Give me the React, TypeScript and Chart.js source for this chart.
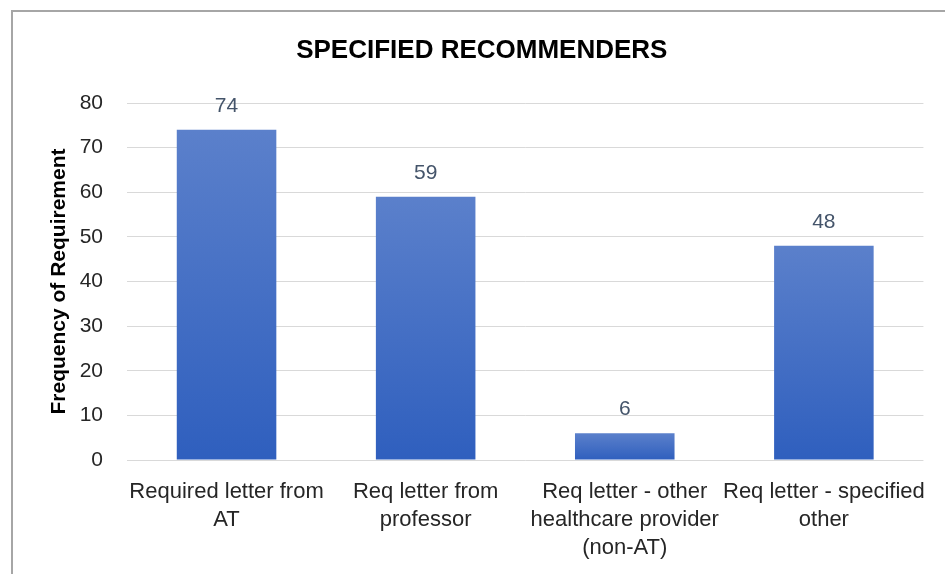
import React, { useEffect, useRef } from "react";
import { Chart, registerables } from "chart.js";

Chart.register(...registerables);

const chartTitle = "SPECIFIED RECOMMENDERS";
const yAxisTitle = "Frequency of Requirement";
const categories: string[][] = [
  ["Required letter from", "AT"],
  ["Req letter from", "professor"],
  ["Req letter - other", "healthcare provider", "(non-AT)"],
  ["Req letter - specified", "other"],
];
const values: number[] = [74, 59, 6, 48];
const yMin = 0;
const yMax = 80;
const yStep = 10;

const FONT = "'Liberation Sans', Arial, sans-serif";

const titlePlugin = {
  id: "customTitle",
  afterDraw(chart: any) {
    const ctx = chart.ctx;
    ctx.save();
    ctx.font = `bold 26px ${FONT}`;
    ctx.fillStyle = "#000000";
    ctx.textAlign = "center";
    ctx.textBaseline = "middle";
    ctx.fillText(chartTitle, chart.width * 0.503, 39);
    ctx.restore();
  },
};

const valueLabelPlugin = {
  id: "valueLabels",
  afterDatasetsDraw(chart: any) {
    const ctx = chart.ctx;
    const meta = chart.getDatasetMeta(0);
    ctx.save();
    ctx.font = `21px ${FONT}`;
    ctx.fillStyle = "#44546a";
    ctx.textAlign = "center";
    ctx.textBaseline = "middle";
    meta.data.forEach((bar: any, i: number) => {
      ctx.fillText(String(values[i]), bar.x, bar.y - 24);
    });
    ctx.restore();
  },
};

export default function App() {
  const canvasRef = useRef<HTMLCanvasElement | null>(null);

  useEffect(() => {
    const canvas = canvasRef.current;
    if (!canvas) return;
    const chart = new Chart(canvas, {
      type: "bar",
      data: {
        labels: categories,
        datasets: [
          {
            data: values,
            backgroundColor: (c: any) => {
              const ch = c.chart;
              if (!ch.chartArea || c.type !== "data" || !ch.scales.y) return "#4472c4";
              const ys = ch.scales.y;
              const top = ys.getPixelForValue(c.raw);
              const base = ys.getPixelForValue(0);
              if (!isFinite(top) || !isFinite(base) || top === base) return "#4472c4";
              const g = ch.ctx.createLinearGradient(0, top, 0, base);
              g.addColorStop(0, "#5b80cb");
              g.addColorStop(1, "#2f5fbe");
              return g;
            },
            borderWidth: 0,
            barPercentage: 0.5,
            categoryPercentage: 1,
          },
        ],
      },
      options: {
        responsive: false,
        animation: false,
        layout: { padding: { left: 34, right: 18, top: 91, bottom: 0 } },
        plugins: {
          legend: { display: false },
          title: { display: false },
          tooltip: { enabled: false },
        },
        scales: {
          x: {
            grid: { display: false, drawTicks: false },
            border: { display: false },
            ticks: {
              font: { family: FONT, size: 22, lineHeight: 1.27 },
              color: "#262626",
              padding: 18,
              maxRotation: 0,
              autoSkip: false,
            },
            afterFit: (scale: any) => {
              scale.height = 114;
            },
          },
          y: {
            min: yMin,
            max: yMax,
            grid: { color: "#d9d9d9", lineWidth: 1, drawTicks: false },
            border: { display: false },
            ticks: {
              stepSize: yStep,
              font: { family: FONT, size: 21 },
              color: "#262626",
              padding: 24,
            },
            title: {
              display: true,
              text: yAxisTitle,
              font: { family: FONT, size: 21, weight: "bold" },
              color: "#000000",
              padding: { top: 0, bottom: 0 },
            },
            afterFit: (scale: any) => {
              scale.width = 80;
            },
          },
        },
      },
      plugins: [titlePlugin, valueLabelPlugin],
    });
    return () => chart.destroy();
  }, []);

  return (
    <div
      style={{
        position: "absolute",
        left: 11,
        top: 10,
        width: 934,
        height: 564,
        borderLeft: "2px solid #a6a6a6",
        borderTop: "2px solid #a6a6a6",
        overflow: "hidden",
        background: "#ffffff",
      }}
    >
      <canvas ref={canvasRef} width={932} height={562} style={{ display: "block", width: 932, height: 562 }} />
    </div>
  );
}
